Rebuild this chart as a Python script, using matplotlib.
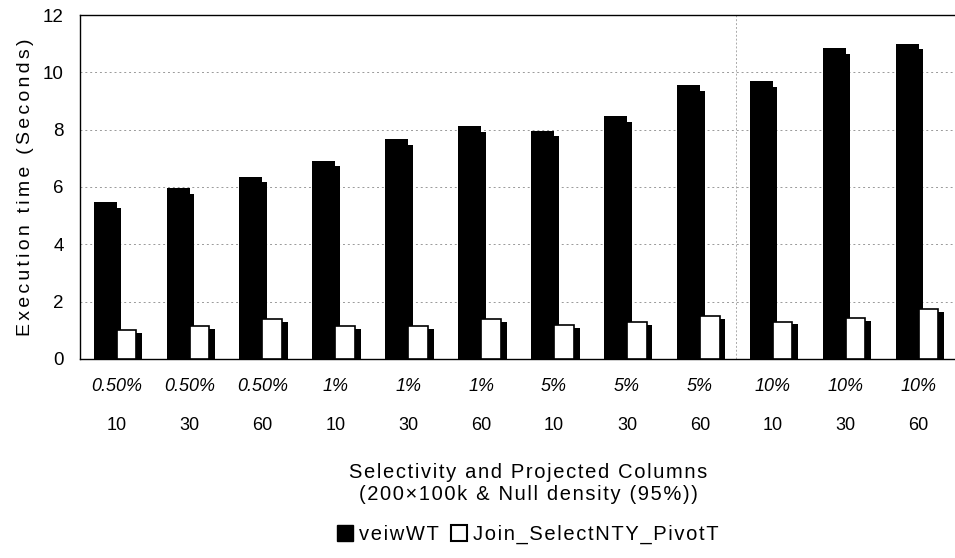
'''
Execution time of veiwWT vs Join_SelectNTY_PivotT
for different selectivity and projected columns.
'''

import numpy as np
import matplotlib.pyplot as plt
from matplotlib.patches import Patch

selectivity = ['0.50%', '0.50%', '0.50%', '1%', '1%', '1%',
               '5%', '5%', '5%', '10%', '10%', '10%']
columns = ['10', '30', '60', '10', '30', '60',
           '10', '30', '60', '10', '30', '60']
veiwWT = [5.47, 5.96, 6.36, 6.92, 7.67, 8.12, 7.97, 8.48, 9.55, 9.69, 10.84, 11.0]
join_pivot = [1.0, 1.15, 1.4, 1.15, 1.15, 1.4, 1.18, 1.27, 1.5, 1.3, 1.43, 1.75]

plt.rcParams['font.family'] = ['Liberation Sans', 'DejaVu Sans']


def spaced(s, sp='\u200a'):
    # the original uses wide letter spacing
    return sp.join(s)


fig = plt.figure(figsize=(9.55, 5.58), dpi=100)
ax = fig.add_axes([0.084, 0.357, 0.916, 0.616])

x = np.arange(len(veiwWT))

# black bars with a small step "shadow" on the right
ax.bar(x - 0.125, np.array(veiwWT) - 0.2, width=0.38, color='black', zorder=2)
ax.bar(x - 0.158, veiwWT, width=0.315, color='black', zorder=3)
# white bars with a black shadow
ax.bar(x + 0.175, np.array(join_pivot) - 0.1, width=0.35, color='black', zorder=4)
ax.bar(x + 0.135, join_pivot, width=0.27, color='white', edgecolor='black',
       linewidth=1.2, zorder=5)

ax.set_xlim(-0.5, 11.5)
ax.set_ylim(0, 12)
ax.set_yticks(range(0, 13, 2))
ax.tick_params(axis='y', length=0, labelsize=13.5, pad=12)
ax.set_xticks([])

for v in [2, 4, 6, 8, 10]:
    ax.axhline(v, color='#999999', linestyle=(0, (2, 3)), linewidth=0.7, zorder=1)
ax.axvline(8.5, color='#aaaaaa', linestyle=(0, (2, 2)), linewidth=0.7, zorder=1)

ax.spines['right'].set_visible(False)
for s in ['left', 'top', 'bottom']:
    ax.spines[s].set_linewidth(1.0)

trans = ax.get_xaxis_transform()
for i in x:
    ax.text(i, -0.082, selectivity[i], transform=trans, ha='center', va='center',
            fontsize=13, style='italic')
    ax.text(i, -0.195, columns[i], transform=trans, ha='center', va='center',
            fontsize=13)

ax.set_ylabel(spaced('Execution time (Seconds)', '\u200a\u200a'), fontsize=14,
              labelpad=6)

fig.text(0.553, 0.153, spaced('Selectivity and Projected Columns'), ha='center',
         va='center', fontsize=14.5)
fig.text(0.553, 0.114, spaced('(200×100k & Null density (95%))'), ha='center',
         va='center', fontsize=14.5)

handles = [Patch(facecolor='black', edgecolor='black', label=spaced('veiwWT')),
           Patch(facecolor='white', edgecolor='black', linewidth=1.5,
                 label=spaced('Join_SelectNTY_PivotT'))]
fig.legend(handles=handles, loc='center', bbox_to_anchor=(0.553, 0.042), ncol=2,
           frameon=False, fontsize=14.5, handlelength=0.8, handleheight=0.8,
           handletextpad=0.3, columnspacing=0.6)

fig.savefig('out.png', dpi=100)
